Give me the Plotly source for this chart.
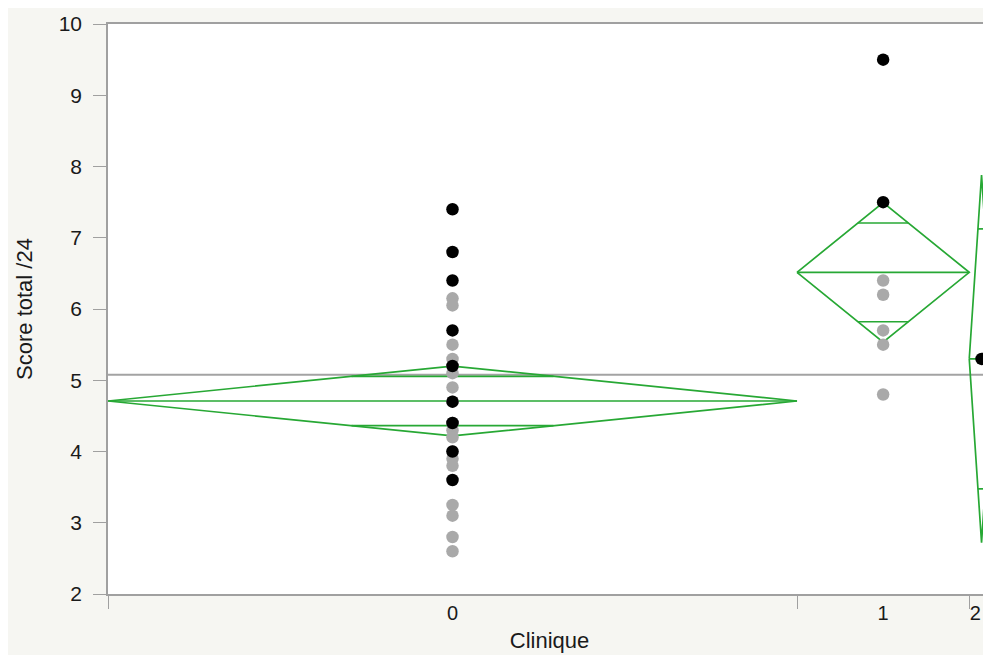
import math
import plotly.graph_objects as go

# ---- data ----
groups = ["0", "1", "2"]
g0_black = [7.4, 6.8, 6.4, 5.7, 5.2, 4.7, 4.4, 4.0, 3.6]
g0_gray = [6.15, 6.05, 5.5, 5.3, 5.1, 4.9, 4.3, 4.2, 3.9, 3.8, 3.25, 3.1, 2.8, 2.6,
           4.7, 4.4, 4.4, 4.0, 5.2]
g1_black = [9.5, 7.5]
g1_gray = [6.4, 6.2, 5.7, 5.5, 4.8]
g2_black = [5.3]
g2_gray = []
ci_half = [0.49, 0.98, 2.58]          # 95% CI half-widths of the means diamonds
y_ticks = [2, 3, 4, 5, 6, 7, 8, 9, 10]

black = [g0_black, g1_black, g2_black]
gray = [g0_gray, g1_gray, g2_gray]
counts = [len(b) + len(g) for b, g in zip(black, gray)]
means = [(sum(b) + sum(g)) / n for b, g, n in zip(black, gray, counts)]
all_vals = [v for b, g in zip(black, gray) for v in b + g]
grand_mean = sum(all_vals) / len(all_vals)

# group boundaries proportional to group sizes
bounds = [0]
for n in counts:
    bounds.append(bounds[-1] + n)
centers = [(bounds[i] + bounds[i + 1]) / 2 for i in range(3)]

GREEN = "#27a834"
LW = 1.7
fig = go.Figure()

# grand mean line
fig.add_trace(go.Scatter(x=[0, 40], y=[grand_mean, grand_mean], mode="lines",
                         line=dict(color="#a3a3a3", width=2), hoverinfo="skip"))

# means diamonds
for i in range(3):
    x0, x1, c, m, h = bounds[i], bounds[i + 1], centers[i], means[i], ci_half[i]
    fig.add_trace(go.Scatter(x=[x0, c, x1, c, x0], y=[m, m + h, m, m - h, m],
                             mode="lines", line=dict(color=GREEN, width=LW),
                             hoverinfo="skip"))
    fig.add_trace(go.Scatter(x=[x0, x1], y=[m, m], mode="lines",
                             line=dict(color=GREEN, width=LW), hoverinfo="skip"))
    d = h / math.sqrt(2)
    frac = (1 - d / h) * (x1 - x0) / 2
    for s in (1, -1):
        fig.add_trace(go.Scatter(x=[c - frac, c + frac], y=[m + s * d, m + s * d],
                                 mode="lines", line=dict(color=GREEN, width=LW),
                                 hoverinfo="skip"))

# points
for i in range(3):
    if gray[i]:
        fig.add_trace(go.Scatter(x=[centers[i]] * len(gray[i]), y=gray[i], mode="markers",
                                 marker=dict(color="#a9a9a9", size=12.5)))
    if black[i]:
        fig.add_trace(go.Scatter(x=[centers[i]] * len(black[i]), y=black[i], mode="markers",
                                 marker=dict(color="#000000", size=12.5)))

# invisible trace for boundary-tick axis
fig.add_trace(go.Scatter(x=[0], y=[2], xaxis="x2", mode="markers",
                         marker=dict(opacity=0), hoverinfo="skip"))

px_per_unit = 689 / counts[0]
x_max = (991 - 108) / px_per_unit
# keep the last group's label inside the visible area
label_pos = [bounds[2] + 0.25 if i == 2 else c for i, c in enumerate(centers)]

font = "Liberation Sans, Arial, Helvetica, sans-serif"
fig.update_layout(
    width=983, height=647,
    margin=dict(l=100, r=0, t=16, b=61),
    paper_bgcolor="#f6f6f2",
    plot_bgcolor="#ffffff",
    showlegend=False,
    font=dict(family=font, size=21, color="#1a1a1a"),
    xaxis=dict(range=[0, x_max], tickvals=label_pos, ticktext=groups, ticks="",
               showgrid=False, zeroline=False, showline=True, mirror=True,
               linecolor="#a0a0a0", linewidth=1.5, automargin=False,
               title=dict(text="Clinique", font=dict(size=22), standoff=10),
               tickfont=dict(size=20)),
    xaxis2=dict(range=[0, x_max], overlaying="x", side="bottom", tickvals=bounds[:-1],
                ticks="outside", ticklen=14, tickcolor="#a0a0a0", tickwidth=1.3,
                automargin=False,
                showticklabels=False, showgrid=False, zeroline=False, showline=False),
    yaxis=dict(range=[2, 10], tickvals=y_ticks, ticks="outside", ticklen=13,
               tickcolor="#a0a0a0", tickwidth=1.3, showgrid=False, zeroline=False,
               showline=True, linecolor="#a0a0a0", linewidth=1.5, ticklabelstandoff=7,
               automargin=False,
               title=dict(text="Score total /24", font=dict(size=22), standoff=20),
               tickfont=dict(size=21)),
)

fig.write_html("out.html")
